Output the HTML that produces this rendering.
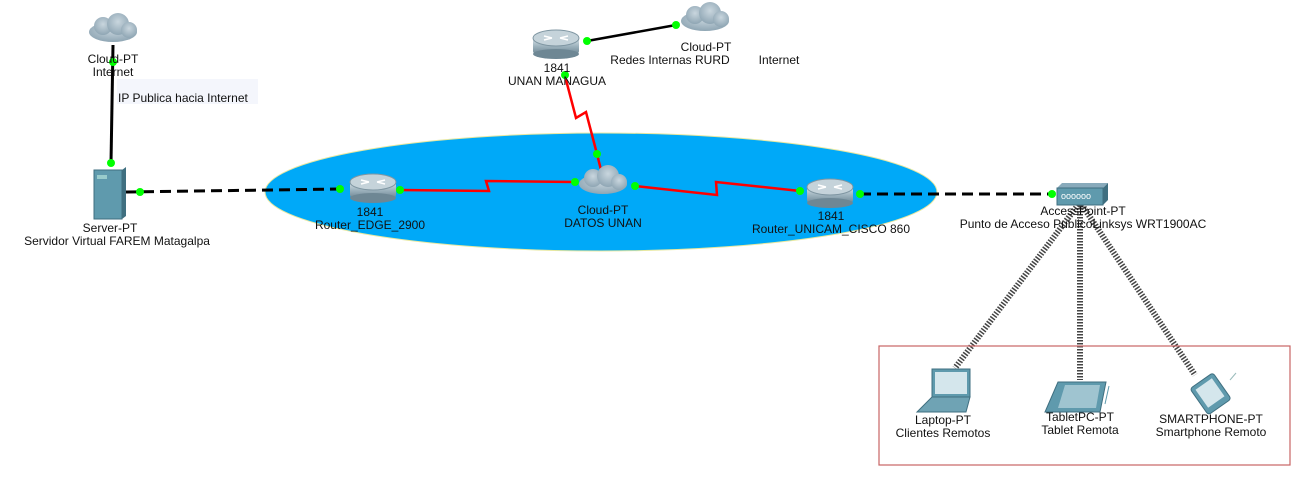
<!DOCTYPE html>
<html><head><meta charset="utf-8"><style>
html,body{margin:0;padding:0;background:#fff;}
svg text{font-family:"Liberation Sans","DejaVu Sans",sans-serif;font-size:12px;fill:#111;}
</style></head><body>
<svg width="1300" height="476" viewBox="0 0 1300 476" xmlns="http://www.w3.org/2000/svg">
<defs>
<radialGradient id="cl" cx="50%" cy="40%" r="60%"><stop offset="0" stop-color="#c9d6de"/><stop offset="1" stop-color="#8fa6b4"/></radialGradient>
<linearGradient id="rt" x1="0" y1="0" x2="0" y2="1"><stop offset="0" stop-color="#d9e3e8"/><stop offset="0.5" stop-color="#9fb4bf"/><stop offset="1" stop-color="#6e8794"/></linearGradient>
<g id="cloud"><ellipse cx="0" cy="2" rx="24" ry="10" fill="url(#cl)"/><circle cx="-10" cy="-4" r="9" fill="url(#cl)"/><circle cx="5" cy="-6" r="11" fill="url(#cl)"/><circle cx="16" cy="0" r="8" fill="url(#cl)"/></g>
<g id="router"><rect x="-23" y="-6" width="46" height="16" fill="url(#rt)" rx="3"/><ellipse cx="0" cy="10" rx="23" ry="5" fill="#6e8794"/><ellipse cx="0" cy="-6" rx="23" ry="8" fill="#c5d3da" stroke="#7f96a2"/><path d="M-12 -8 l8 2 M12 -8 l-8 2 M-12 -4 l8 -2 M12 -4 l-8 -2" stroke="#fff" stroke-width="1.5"/></g>
</defs>
<ellipse cx="601" cy="192" rx="336" ry="59" fill="#00a9f8" stroke="#e8e8a0" stroke-width="1"/>
<rect x="117" y="79" width="141" height="25" fill="#f4f6fc"/>
<text x="118" y="102">IP Publica hacia Internet</text>
<line x1="113" y1="45" x2="111" y2="163" stroke="#000" stroke-width="3"/>
<line x1="126" y1="192" x2="340" y2="189" stroke="#000" stroke-width="3" stroke-dasharray="11,6"/>
<line x1="860" y1="194" x2="1052" y2="194" stroke="#000" stroke-width="3" stroke-dasharray="11,6"/>
<line x1="587" y1="41" x2="676" y2="25" stroke="#000" stroke-width="2.5"/>
<polyline points="400,190 489,191 486,181 575,182" fill="none" stroke="#f00" stroke-width="2.5"/>
<polyline points="635,186 717,195 716,182 800,191" fill="none" stroke="#f00" stroke-width="2.5"/>
<polyline points="565,76 576,118 586,112 597,154 601,170" fill="none" stroke="#f00" stroke-width="2.5"/>
<g stroke="#444" stroke-width="6" stroke-dasharray="1.5,1.5" fill="none">
<line x1="1078" y1="205" x2="955" y2="368"/>
<line x1="1080" y1="205" x2="1080" y2="380"/>
<line x1="1082" y1="205" x2="1195" y2="375"/>
</g>
<rect x="879" y="346" width="411" height="119" fill="none" stroke="#c86464" stroke-width="1.2"/>
<use href="#cloud" x="113" y="30"/>
<use href="#cloud" x="705" y="19"/>
<use href="#cloud" x="603" y="182"/>
<use href="#router" x="373" y="188"/>
<use href="#router" x="830" y="193"/>
<use href="#router" x="556" y="44"/>
<rect x="94" y="170" width="28" height="49" fill="#5f9aad" stroke="#3f6f80"/>
<polygon points="122,170 126,167 126,216 122,219" fill="#3f6f80"/>
<rect x="97" y="175" width="10" height="4" fill="#9cc"/>
<polygon points="1057,188 1062,183 1108,183 1103,188" fill="#8ab"/>
<rect x="1057" y="188" width="46" height="17" fill="#5f9aad" stroke="#3f6f80"/>
<polygon points="1103,188 1108,183 1108,200 1103,205" fill="#3f6f80"/>
<text x="1061" y="199" style="font-size:9px;fill:#fff">oooooo</text>
<rect x="932" y="369" width="38" height="28" fill="#5f9aad" stroke="#3f6f80"/>
<rect x="935" y="372" width="32" height="22" fill="#d4e6ec"/>
<polygon points="932,397 970,397 966,412 917,412" fill="#6fa3b4" stroke="#3f6f80"/>
<polygon points="1058,382 1106,382 1100,412 1045,412" fill="#5f9aad" stroke="#3f6f80"/>
<polygon points="1065,385 1100,385 1096,408 1058,408" fill="#9fc4d0"/>
<line x1="1109" y1="386" x2="1105" y2="404" stroke="#5f9aad"/>
<g transform="rotate(-35 1210 393)"><rect x="1196" y="378" width="28" height="32" rx="3" fill="#5f9aad" stroke="#3f6f80"/><rect x="1200" y="382" width="20" height="22" fill="#d4e6ec"/></g>
<line x1="1230" y1="380" x2="1236" y2="373" stroke="#9bb"/>
<g fill="#0f0">
<circle cx="113" cy="62" r="4"/><circle cx="111" cy="163" r="4"/><circle cx="140" cy="192" r="4"/>
<circle cx="340" cy="189" r="4"/><circle cx="400" cy="190" r="4"/><circle cx="575" cy="182" r="4"/>
<circle cx="635" cy="186" r="4"/><circle cx="597" cy="154" r="4"/><circle cx="565" cy="75" r="4"/>
<circle cx="587" cy="41" r="4"/><circle cx="676" cy="25" r="4"/><circle cx="800" cy="191" r="4"/>
<circle cx="860" cy="194" r="4"/><circle cx="1052" cy="194" r="4"/>
</g>
<g text-anchor="middle">
<text x="113" y="63">Cloud-PT</text><text x="113" y="76">Internet</text>
<text x="110" y="232">Server-PT</text><text x="117" y="245">Servidor Virtual FAREM Matagalpa</text>
<text x="370" y="216">1841</text><text x="370" y="229">Router_EDGE_2900</text>
<text x="603" y="214">Cloud-PT</text><text x="603" y="227">DATOS UNAN</text>
<text x="831" y="220">1841</text><text x="831" y="233">Router_UNICAM_CISCO 860</text>
<text x="557" y="72">1841</text><text x="557" y="85">UNAN MANAGUA</text>
<text x="706" y="51">Cloud-PT</text><text x="670" y="64">Redes Internas RURD</text>
<text x="779" y="64">Internet</text>
<text x="1083" y="215">AccessPoint-PT</text><text x="1083" y="228">Punto de Acceso PublicoLinksys WRT1900AC</text>
<text x="943" y="424">Laptop-PT</text><text x="943" y="437">Clientes Remotos</text>
<text x="1080" y="421">TabletPC-PT</text><text x="1080" y="434">Tablet Remota</text>
<text x="1211" y="423">SMARTPHONE-PT</text><text x="1211" y="436">Smartphone Remoto</text>
</g>
</svg>
</body></html>
